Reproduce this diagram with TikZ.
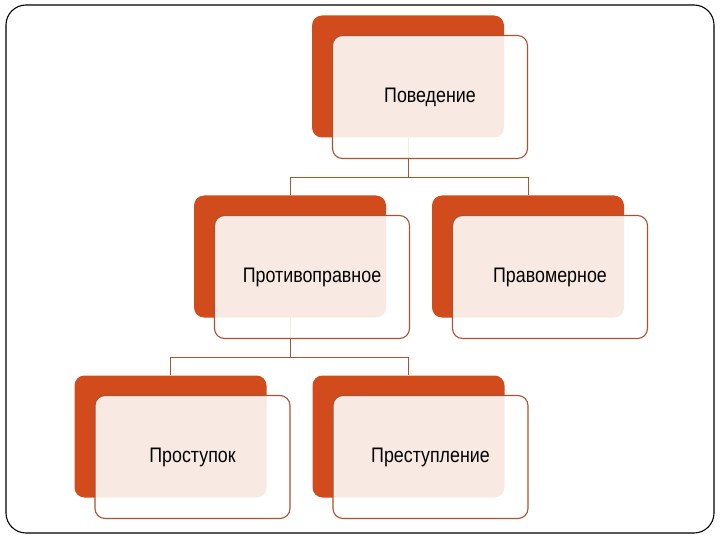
\documentclass[tikz,border=0pt]{standalone}
\usepackage{fontspec}
\setmainfont{Liberation Sans}[FakeStretch=0.85]
\usetikzlibrary{positioning,calc,backgrounds}

\definecolor{rust}{RGB}{210,75,28}
\definecolor{rustline}{RGB}{172,82,48}

\tikzset{
  backbox/.style={fill=rust, draw=none, rounded corners=10pt,
    minimum width=192pt, minimum height=122pt},
  frontbox/.style={fill=white, fill opacity=0.88, text opacity=1,
    draw=rustline, line width=1.1pt, rounded corners=10pt,
    minimum width=195pt, minimum height=123pt,
    font=\fontsize{21}{25}\selectfont},
  link/.style={draw=rustline, line width=0.8pt}
}

\begin{document}
\begin{tikzpicture}[x=1pt,y=-1pt]

  % Fix the page to the slide size
  \useasboundingbox (0,0) rectangle (720,540);

  % Slide frame
  \draw[line width=1.1pt, rounded corners=20pt] (6,5) rectangle (714,533);

  % Shift of the front card against the back card
  \def\dx{22}
  \def\dy{20.5}

  % Back cards
  \node[backbox] (beh) at (408,76.5) {};
  \node[backbox] (ill) at (290,256.5) {};
  \node[backbox] (leg) at (528,256.5) {};
  \node[backbox] (mis) at (170.5,436.5) {};
  \node[backbox] (cri) at (408.5,436.5) {};

  % Front cards with the texts
  \node[frontbox] (behF) at ($(beh)+(\dx,\dy)$) {Поведение};
  \node[frontbox] (illF) at ($(ill)+(\dx,\dy)$) {Противоправное};
  \node[frontbox] (legF) at ($(leg)+(\dx,\dy)$) {Правомерное};
  \node[frontbox] (misF) at ($(mis)+(\dx,\dy)$) {Проступок};
  \node[frontbox] (criF) at ($(cri)+(\dx,\dy)$) {Преступление};

  % Bars half way between the levels
  \coordinate (bar1) at ($(behF.south)!.5!(ill.north)$);
  \coordinate (bar2) at ($(illF.south)!.5!(mis.north)$);

  % Connectors, behind the cards
  \begin{scope}[on background layer]
    \draw[link] (beh.south) -- (beh.south |- bar1) -| (ill.north);
    \draw[link] (beh.south |- bar1) -| (leg.north);
    \draw[link] (ill.south) -- (ill.south |- bar2) -| (mis.north);
    \draw[link] (ill.south |- bar2) -| (cri.north);
  \end{scope}

\end{tikzpicture}
\end{document}
